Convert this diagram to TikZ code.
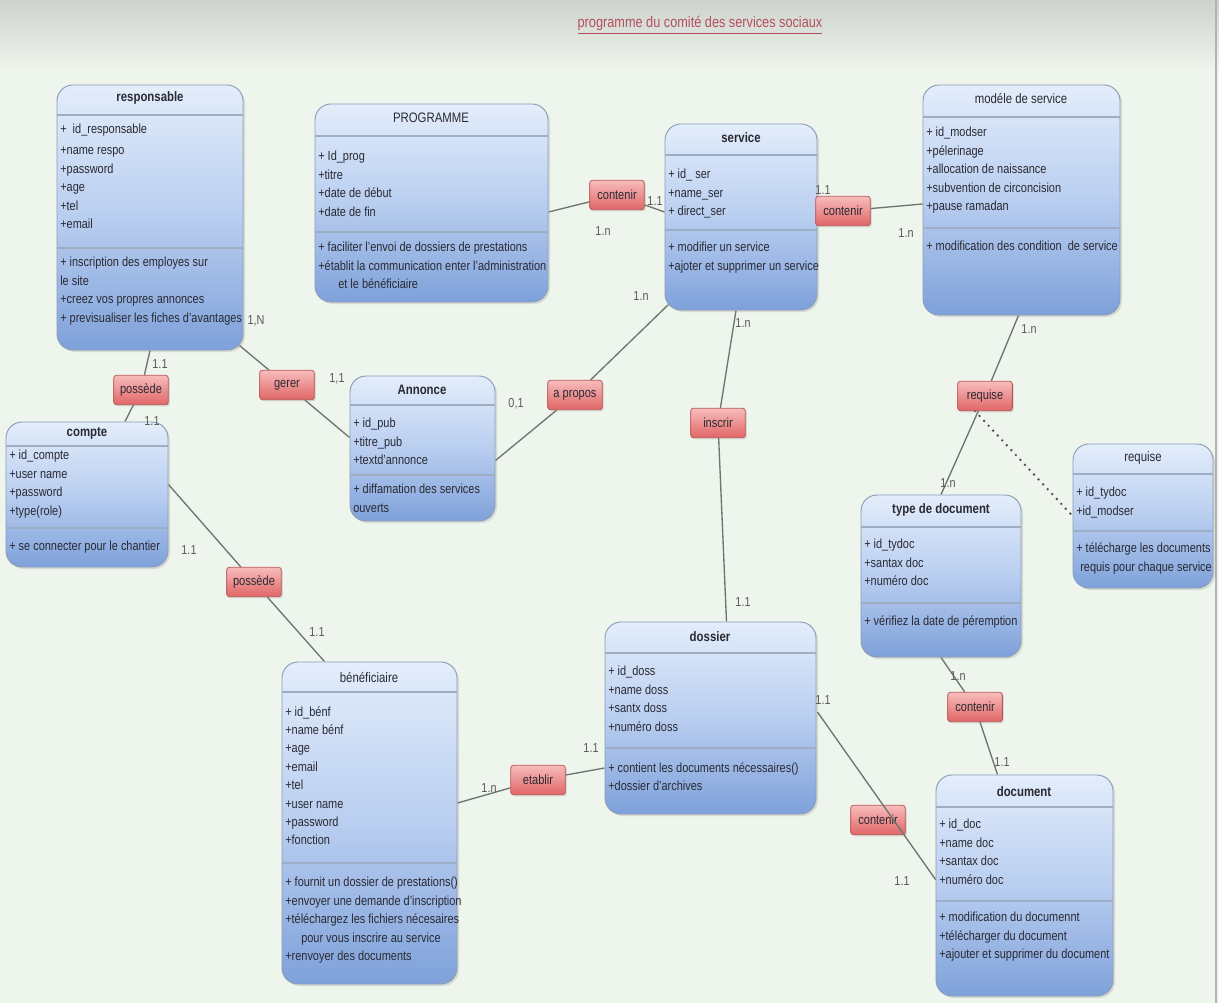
\documentclass[tikz,border=0pt]{standalone}
\usepackage{fontspec}
\setmainfont{Liberation Sans}[FakeStretch=0.83]
\usetikzlibrary{shadows,fit,calc}
\definecolor{bgc}{HTML}{EEF5EC}
\definecolor{bandc}{HTML}{CDD2CD}
\definecolor{clsTop}{HTML}{E3EDFB}
\definecolor{clsMid}{HTML}{B9CEF0}
\definecolor{clsBot}{HTML}{7EA1DA}
\definecolor{clsline}{HTML}{8C9DB8}
\definecolor{sepc}{HTML}{9DADC4}
\definecolor{ascTop}{HTML}{F8BCBC}
\definecolor{ascBot}{HTML}{E06666}
\definecolor{ascline}{HTML}{B85656}
\definecolor{connc}{HTML}{6E756E}
\definecolor{txtc}{HTML}{2A2A33}
\definecolor{multc}{HTML}{5A5A5A}
\definecolor{titlec}{HTML}{B54F5F}
\pgfdeclarelayer{back}
\pgfdeclarelayer{conns}
\pgfsetlayers{back,conns,main}
\begin{document}
\begin{tikzpicture}[x=0.75pt,y=-0.75pt,
  cls/.style={draw=clsline, line width=0.7pt, rounded corners=12pt,
    top color=clsTop, bottom color=clsBot, middle color=clsMid, inner sep=0pt,
    drop shadow={opacity=0.22, shadow xshift=1.5pt, shadow yshift=-1.5pt}},
  ttl/.style={font=\fontsize{10.3}{12}\selectfont\bfseries, text=txtc, inner sep=0pt},
  ttlr/.style={font=\fontsize{10.3}{12}\selectfont, text=txtc, inner sep=0pt},
  body/.style={anchor=north west, align=left, inner sep=0pt,
    font=\fontsize{9.9}{13.8}\selectfont, text=txtc},
  sepl/.style={draw=sepc, line width=0.8pt},
  assoc/.style={draw=ascline, line width=0.6pt, rounded corners=2pt,
    top color=ascTop, bottom color=ascBot, minimum width=41pt, minimum height=22pt,
    inner sep=1pt, font=\fontsize{10}{11}\selectfont, text=txtc,
    drop shadow={opacity=0.22, shadow xshift=1.2pt, shadow yshift=-1.2pt}},
  conn/.style={draw=connc, line width=1pt},
  mult/.style={font=\fontsize{9.8}{10}\selectfont, text=multc, inner sep=0pt}]
\useasboundingbox (0,0) rectangle (1219,1003);
\begin{pgfonlayer}{back}
  \fill[bgc] (0,0) rectangle (1219,1003);
  \fill[top color=bandc, bottom color=bgc] (0,0) rectangle (1219,70);
  \draw[black!30, line width=1pt] (1216,0) -- (1216,1003);
\end{pgfonlayer}

\node[font=\fontsize{11.5}{13}\selectfont, text=titlec] (heading) at (700,25) {\underline{programme du comité des services sociaux}};

% ---------- responsable
\node[cls, fit={(57,85)(243,350)}] (resp) {};
\node[ttl] (respT) at (150,98) {responsable};
\draw[sepl] (57,115) -- (243,115);
\draw[sepl] (57,248) -- (243,248);
\node[body] (respA) at (60,124) {+\ \ id\_responsable\\[2pt]+name respo\\+password\\+age\\+tel\\+email};
\node[body] (respM) at (60,257) {+ inscription des employes sur\\le site\\+creez vos propres annonces\\+ previsualiser les fiches d'avantages};

% ---------- PROGRAMME
\node[cls, fit={(315,104)(548,302)}] (prog) {};
\node[ttlr] (progT) at (431,118) {PROGRAMME};
\draw[sepl] (315,136) -- (548,136);
\draw[sepl] (315,232) -- (548,232);
\node[body] (progA) at (318,151) {+ Id\_prog\\+titre\\+date de début\\+date de fin};
\node[body] (progM) at (318,242) {+ faciliter l'envoi de dossiers de prestations\\+établit la communication enter l'administration\\\hspace*{15pt}et le bénéficiaire};

% ---------- service
\node[cls, fit={(665,124)(817,310)}] (serv) {};
\node[ttl] (servT) at (741,138) {service};
\draw[sepl] (665,155) -- (817,155);
\draw[sepl] (665,230) -- (817,230);
\node[body] (servA) at (668,169) {+ id\_ ser\\+name\_ser\\+ direct\_ser};
\node[body] (servM) at (668,242) {+ modifier un service\\+ajoter et supprimer un service};

% ---------- modele de service
\node[cls, fit={(923,85)(1120,315)}] (mod) {};
\node[ttlr] (modT) at (1021,99) {modéle de service};
\draw[sepl] (923,117) -- (1120,117);
\draw[sepl] (923,228) -- (1120,228);
\node[body] (modA) at (926,127) {+ id\_modser\\+pélerinage\\+allocation de naissance\\+subvention de circoncision\\+pause ramadan};
\node[body] (modM) at (926,241) {+ modification des condition\ \ de service};

% ---------- compte
\node[cls, fit={(6,422)(168,567)}] (cpt) {};
\node[ttl] (cptT) at (87,433) {compte};
\draw[sepl] (6,446) -- (168,446);
\draw[sepl] (6,528) -- (168,528);
\node[body] (cptA) at (9,450) {+ id\_compte\\+user name\\+password\\+type(role)};
\node[body] (cptM) at (9,541) {+ se connecter pour le chantier};

% ---------- Annonce
\node[cls, fit={(350,376)(495,521)}] (ann) {};
\node[ttl] (annT) at (422,390) {Annonce};
\draw[sepl] (350,405) -- (495,405);
\draw[sepl] (350,475) -- (495,475);
\node[body] (annA) at (353,418) {+ id\_pub\\+titre\_pub\\+textd'annonce};
\node[body] (annM) at (353,484) {+ diffamation des services\\ouverts};

% ---------- requise (classe)
\node[cls, fit={(1073,444)(1213,588)}] (reqc) {};
\node[ttlr] (reqcT) at (1143,458) {requise};
\draw[sepl] (1073,474) -- (1213,474);
\draw[sepl] (1073,531) -- (1213,531);
\node[body] (reqcA) at (1076,487) {+ id\_tydoc\\+id\_modser};
\node[body] (reqcM) at (1076,543) {+ télécharge les documents\\\hspace*{3pt}requis pour chaque service};

% ---------- type de document
\node[cls, fit={(861,495)(1021,657)}] (typ) {};
\node[ttl] (typT) at (941,510) {type de document};
\draw[sepl] (861,527) -- (1021,527);
\draw[sepl] (861,603) -- (1021,603);
\node[body] (typA) at (864,539) {+ id\_tydoc\\+santax doc\\+numéro doc};
\node[body] (typM) at (864,616) {+ vérifiez la date de péremption};

% ---------- dossier
\node[cls, fit={(605,622)(816,814)}] (dos) {};
\node[ttl] (dosT) at (710,637) {dossier};
\draw[sepl] (605,653) -- (816,653);
\draw[sepl] (605,748) -- (816,748);
\node[body] (dosA) at (608,666) {+ id\_doss\\+name doss\\+santx doss\\+numéro doss};
\node[body] (dosM) at (608,762) {+ contient les documents nécessaires()\\+dossier d'archives};

% ---------- beneficiaire
\node[cls, fit={(282,662)(457,984)}] (ben) {};
\node[ttlr] (benT) at (369,677) {bénéficiaire};
\draw[sepl] (282,692) -- (457,692);
\draw[sepl] (282,863) -- (457,863);
\node[body] (benA) at (285,706) {+ id\_bénf\\+name bénf\\+age\\+email\\+tel\\+user name\\+password\\+fonction};
\node[body] (benM) at (285,877) {+ fournit un dossier de prestations()\\+envoyer une demande d'inscription\\+téléchargez les fichiers nécesaires\\\hspace*{12pt}pour vous inscrire au service\\+renvoyer des documents};

% ---------- document
\node[cls, fit={(936,775)(1113,996)}] (doc) {};
\node[ttl] (docT) at (1024,792) {document};
\draw[sepl] (936,807) -- (1113,807);
\draw[sepl] (936,901) -- (1113,901);
\node[body] (docA) at (939,819) {+ id\_doc\\+name doc\\+santax doc\\+numéro doc};
\node[body] (docM) at (939,912) {+ modification du documennt\\+télécharger du document\\+ajouter et supprimer du document};

% ---------- associations
\node[assoc] (pos1) at (141,390) {possède};
\node[assoc] (ger) at (287,385) {gerer};
\node[assoc] (cont1) at (617,195) {contenir};
\node[assoc] (cont2) at (843,211) {contenir};
\node[assoc] (apr) at (575,395) {a propos};
\node[assoc] (ins) at (718,423) {inscrir};
\node[assoc] (req) at (985,396) {requise};
\node[assoc] (pos2) at (254,582) {possède};
\node[assoc] (eta) at (538,780) {etablir};
\node[assoc] (cont3) at (878,820) {contenir};
\node[assoc] (cont4) at (975,707) {contenir};

% ---------- connectors
\begin{pgfonlayer}{conns}
  \draw[conn] (resp.south) -- (pos1);
  \draw[conn] (pos1) -- ($(cpt.north)+(38,0)$);
  \draw[conn] ($(resp.south east)+(-4,-5)$) -- (ger);
  \draw[conn] (ger) -- ($(ann.west)+(0,-11)$);
  \draw[conn] ($(prog.east)+(0,9)$) -- (cont1);
  \draw[conn] (cont1) -- ($(serv.west)+(0,-5)$);
  \draw[conn] ($(serv.east)+(0,-10)$) -- (cont2);
  \draw[conn] (cont2) -- ($(mod.west)+(0,4)$);
  \draw[conn] ($(serv.south west)+(4,-6)$) -- (apr);
  \draw[conn] (apr) -- ($(ann.east)+(0,12)$);
  \draw[conn] ($(serv.south)+(-5,0)$) -- (ins);
  \draw[conn] (ins) -- ($(dos.north)+(16,0)$);
  \draw[conn] ($(mod.south)+(-3,0)$) -- (req);
  \draw[conn] (req) -- (typ.north);
  \draw[draw=black!70, line width=2pt, line cap=round, dash pattern=on 0pt off 5pt] ($(req.south)+(-10,0)$) -- (reqc.west);
  \draw[conn] ($(cpt.east)+(0,-10)$) -- (pos2);
  \draw[conn] (pos2) -- ($(ben.north)+(-45,0)$);
  \draw[conn] ($(ben.east)+(0,-20)$) -- (eta);
  \draw[conn] (eta) -- ($(dos.west)+(0,50)$);
  \draw[conn] (typ.south) -- (cont4);
  \draw[conn] (cont4) -- ($(doc.north)+(-27,0)$);
\end{pgfonlayer}
\draw[conn] ($(dos.east)+(1,-6)$) -- ($(doc.west)+(0,-6)$);

% ---------- multiplicities
\node[mult] (m1) at (160,364) {1.1};
\node[mult] (m2) at (152,421) {1.1};
\node[mult] (m3) at (256,321) {1,N};
\node[mult] (m4) at (337,379) {1,1};
\node[mult] (m5) at (655,201) {1.1};
\node[mult] (m6) at (603,231) {1.n};
\node[mult] (m7) at (823,190) {1.1};
\node[mult] (m8) at (906,233) {1.n};
\node[mult] (m9) at (641,296) {1.n};
\node[mult] (m10) at (516,404) {0,1};
\node[mult] (m11) at (743,323) {1.n};
\node[mult] (m12) at (743,602) {1.1};
\node[mult] (m13) at (1029,329) {1.n};
\node[mult] (m14) at (948,483) {1.n};
\node[mult] (m15) at (189,550) {1.1};
\node[mult] (m16) at (317,632) {1.1};
\node[mult] (m17) at (489,788) {1.n};
\node[mult] (m18) at (591,748) {1.1};
\node[mult] (m19) at (823,700) {1.1};
\node[mult] (m20) at (902,881) {1.1};
\node[mult] (m21) at (958,676) {1.n};
\node[mult] (m22) at (1002,762) {1.1};
\end{tikzpicture}
\end{document}
